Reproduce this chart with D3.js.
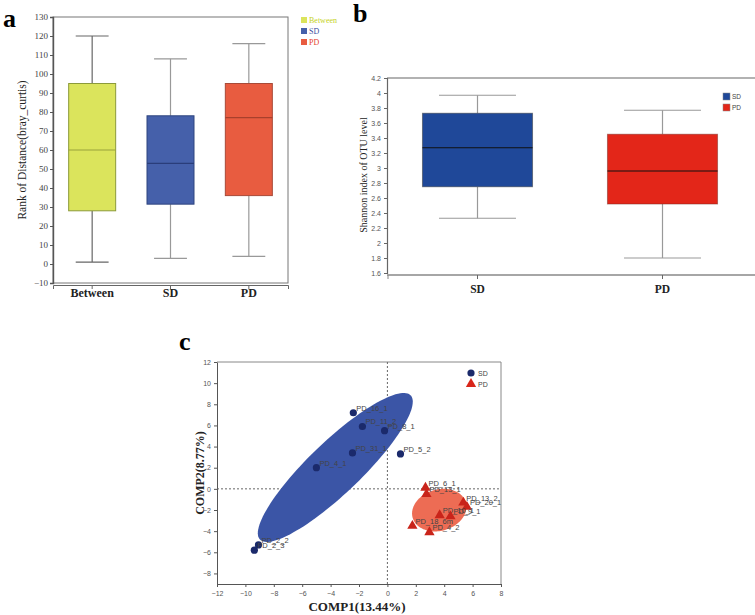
<!DOCTYPE html>
<html><head><meta charset="utf-8">
<script src="https://cdn.jsdelivr.net/npm/d3@7"></script>
<style>body{margin:0;background:#fff}svg{display:block}</style>
</head><body>
<script>
// ---------- Panel a data ----------
const groupsA = ["Between", "SD", "PD"];
const minA = [1, 3, 4];
const q1A = [28, 31.5, 36];
const medA = [60, 53, 77];
const q3A = [95, 78, 95];
const maxA = [120, 108, 116];
const yTicksA = [-10, 0, 10, 20, 30, 40, 50, 60, 70, 80, 90, 100, 110, 120, 130];

// ---------- Panel b data ----------
const groupsB = ["SD", "PD"];
const minB = [2.33, 1.8];
const q1B = [2.75, 2.52];
const medB = [3.27, 2.96];
const q3B = [3.73, 3.45];
const maxB = [3.97, 3.77];
const yTicksB = [1.6, 1.8, 2, 2.2, 2.4, 2.6, 2.8, 3, 3.2, 3.4, 3.6, 3.8, 4, 4.2];

// ---------- Panel c data ----------
const sdNames = ["PD_16_1", "PD_11_2", "PD_8_1", "PD_31_1", "PD_5_2", "PD_4_1", "PD_2_2", "PD_2_3"];
const sdX = [-2.4, -1.76, -0.2, -2.46, 0.92, -5.0, -9.08, -9.37];
const sdY = [7.2, 5.9, 5.5, 3.4, 3.3, 2.0, -5.3, -5.8];
const pdNames = ["PD_6_1", "PD_13_1", "PD_13_2", "PD_20_1", "PD_10_1", "PD_9_1", "PD_18_6m", "PD_4_2"];
const pdX = [2.68, 2.75, 5.35, 5.6, 3.68, 4.44, 1.76, 2.96];
const pdY = [0.1, -0.5, -1.3, -1.7, -2.5, -2.6, -3.5, -4.1];
const xTicksC = [-12, -10, -8, -6, -4, -2, 0, 2, 4, 6, 8];
const yTicksC = [-8, -6, -4, -2, 0, 2, 4, 6, 8, 10, 12];

const W = 755, H = 615;
const svg = d3.select("body").append("svg").attr("width", W).attr("height", H);
const serif = "'Liberation Serif','Times New Roman',serif";
const sans = "'Liberation Sans',Arial,sans-serif";

// ================= Panel a =================
{
  const g = svg.append("g");
  const L = 53, R = 288, T = 17, B = 283;
  const x = d3.scaleBand().domain(groupsA).range([L, R]);
  const y = d3.scaleLinear().domain([-10, 130]).range([B, T]);
  const fill = ["#dbe45c", "#4560aa", "#e85c40"];
  const edge = ["#8c9a3a", "#2e447f", "#a84a38"];
  const medc = ["#9aa23a", "#2a3d7a", "#a8402c"];
  const legC = ["#c5d21a", "#3b4fa0", "#e5432e"];

  g.append("text").attr("x", 3).attr("y", 27).attr("font-family", serif).attr("font-weight", "bold")
    .attr("font-size", 26).text("a");

  g.append("rect").attr("x", L).attr("y", T).attr("width", R - L).attr("height", B - T)
    .attr("fill", "none").attr("stroke", "#777").attr("stroke-width", 1);

  const ya = d3.axisLeft(y).tickValues(yTicksA).tickSize(3).tickFormat(d3.format("d"));
  const yg = g.append("g").attr("transform", `translate(${L},0)`).call(ya);
  yg.select(".domain").attr("stroke", "#555").attr("stroke-width", 1.4);
  yg.selectAll(".tick line").attr("stroke", "#555");
  yg.selectAll("text").attr("font-family", serif).attr("font-size", 9).attr("fill", "#444").attr("dx", 1);

  const xa = d3.axisBottom(x).tickSize(4).tickSizeOuter(4);
  const xg = g.append("g").attr("transform", `translate(0,${B + 2})`).call(xa);
  xg.select(".domain").attr("stroke", "#666");
  xg.selectAll(".tick line").attr("stroke", "#666");
  xg.selectAll("text").attr("font-family", serif).attr("font-weight", "bold").attr("font-size", 12)
    .attr("fill", "#222").attr("dy", "0.45em");

  g.append("text").attr("transform", `translate(26,150) rotate(-90)`).attr("text-anchor", "middle")
    .attr("font-family", serif).attr("font-size", 11.5).attr("fill", "#222").text("Rank of Distance(bray_curtis)");

  groupsA.forEach((k, i) => {
    const cx = x(k) + x.bandwidth() / 2;
    const bw = x.bandwidth() * 0.6, cw = x.bandwidth() * 0.42;
    const wc = i === 0 ? "#666" : "#999";
    g.append("line").attr("x1", cx).attr("x2", cx).attr("y1", y(maxA[i])).attr("y2", y(q3A[i])).attr("stroke", wc).attr("stroke-width", 1.2);
    g.append("line").attr("x1", cx).attr("x2", cx).attr("y1", y(q1A[i])).attr("y2", y(minA[i])).attr("stroke", wc).attr("stroke-width", 1.2);
    g.append("line").attr("x1", cx - cw / 2).attr("x2", cx + cw / 2).attr("y1", y(maxA[i])).attr("y2", y(maxA[i])).attr("stroke", wc).attr("stroke-width", 1.2);
    g.append("line").attr("x1", cx - cw / 2).attr("x2", cx + cw / 2).attr("y1", y(minA[i])).attr("y2", y(minA[i])).attr("stroke", wc).attr("stroke-width", 1.2);
    g.append("rect").attr("x", cx - bw / 2).attr("y", y(q3A[i])).attr("width", bw).attr("height", y(q1A[i]) - y(q3A[i]))
      .attr("fill", fill[i]).attr("stroke", edge[i]).attr("stroke-width", 1);
    g.append("line").attr("x1", cx - bw / 2).attr("x2", cx + bw / 2).attr("y1", y(medA[i])).attr("y2", y(medA[i])).attr("stroke", medc[i]).attr("stroke-width", 1.2);
    g.append("rect").attr("x", 301).attr("y", 17 + i * 11).attr("width", 6).attr("height", 6).attr("fill", fill[i]);
    g.append("text").attr("x", 309).attr("y", 23 + i * 11).attr("font-family", serif).attr("font-size", 8)
      .attr("fill", legC[i]).text(k);
  });
}

// ================= Panel b =================
{
  const g = svg.append("g");
  const L = 387, R = 755, T = 78, B = 273;
  const x = d3.scaleBand().domain(groupsB).range([385, 755]);
  const y = d3.scaleLinear().domain([1.6, 4.2]).range([B, T]);
  const fill = ["#1f4899", "#e32619"];
  const edge = ["#333", "#7a2a20"];

  g.append("text").attr("x", 353).attr("y", 22).attr("font-family", serif).attr("font-weight", "bold")
    .attr("font-size", 26).text("b");

  g.append("line").attr("x1", L).attr("x2", R).attr("y1", T).attr("y2", T).attr("stroke", "#666").attr("stroke-width", 1.2);

  const ya = d3.axisLeft(y).tickValues(yTicksB).tickSize(3).tickFormat(d => String(+d.toFixed(1)));
  const yg = g.append("g").attr("transform", `translate(${L},0)`).call(ya);
  yg.select(".domain").attr("stroke", "#666").attr("stroke-width", 1.2);
  yg.selectAll(".tick line").attr("stroke", "#666");
  yg.selectAll("text").attr("font-family", sans).attr("font-size", 7).attr("fill", "#555");

  const xg = g.append("g").attr("transform", `translate(0,${B + 2})`);
  xg.append("line").attr("x1", L).attr("x2", R).attr("y1", 0).attr("y2", 0).attr("stroke", "#888").attr("stroke-width", 1.5);
  xg.append("line").attr("x1", L + 1).attr("x2", L + 1).attr("y1", 0).attr("y2", 4).attr("stroke", "#888");
  groupsB.forEach(k => {
    const cx = x(k) + x.bandwidth() / 2;
    xg.append("line").attr("x1", cx).attr("x2", cx).attr("y1", 0).attr("y2", 4).attr("stroke", "#666");
    xg.append("text").attr("x", cx).attr("y", 18).attr("text-anchor", "middle").attr("font-family", serif)
      .attr("font-weight", "bold").attr("font-size", 11.5).attr("fill", "#222").text(k);
  });

  g.append("text").attr("transform", `translate(367,175) rotate(-90)`).attr("text-anchor", "middle")
    .attr("font-family", serif).attr("font-size", 10).attr("fill", "#222").text("Shannon index of OTU level");

  groupsB.forEach((k, i) => {
    const cx = x(k) + x.bandwidth() / 2;
    const bw = x.bandwidth() * 0.595, cw = x.bandwidth() * 0.416;
    const wc = "#999";
    g.append("line").attr("x1", cx).attr("x2", cx).attr("y1", y(maxB[i])).attr("y2", y(q3B[i])).attr("stroke", wc).attr("stroke-width", 1.2);
    g.append("line").attr("x1", cx).attr("x2", cx).attr("y1", y(q1B[i])).attr("y2", y(minB[i])).attr("stroke", wc).attr("stroke-width", 1.2);
    g.append("line").attr("x1", cx - cw / 2).attr("x2", cx + cw / 2).attr("y1", y(maxB[i])).attr("y2", y(maxB[i])).attr("stroke", wc).attr("stroke-width", 1.2);
    g.append("line").attr("x1", cx - cw / 2).attr("x2", cx + cw / 2).attr("y1", y(minB[i])).attr("y2", y(minB[i])).attr("stroke", wc).attr("stroke-width", 1.2);
    g.append("rect").attr("x", cx - bw / 2).attr("y", y(q3B[i])).attr("width", bw).attr("height", y(q1B[i]) - y(q3B[i]))
      .attr("fill", fill[i]).attr("stroke", edge[i]).attr("stroke-opacity", 0.5).attr("stroke-width", 1);
    g.append("line").attr("x1", cx - bw / 2).attr("x2", cx + bw / 2).attr("y1", y(medB[i])).attr("y2", y(medB[i])).attr("stroke", "#111").attr("stroke-width", 1);
    g.append("rect").attr("x", 723).attr("y", 93 + i * 11).attr("width", 7).attr("height", 7).attr("fill", fill[i]).attr("stroke", "#888").attr("stroke-width", 0.5);
    g.append("text").attr("x", 732).attr("y", 99 + i * 11).attr("font-family", sans).attr("font-size", 6.5).attr("fill", "#444").text(k);
  });
}

// ================= Panel c =================
{
  const g = svg.append("g");
  const L = 217, R = 501, T = 362, B = 584;
  const x = d3.scaleLinear().domain([-12, 8]).range([L, R]);
  const y = d3.scaleLinear().domain([-9, 12]).range([B, T]);

  g.append("text").attr("x", 179).attr("y", 350).attr("font-family", serif).attr("font-weight", "bold")
    .attr("font-size", 26).text("c");

  g.append("line").attr("x1", L).attr("x2", R).attr("y1", T).attr("y2", T).attr("stroke", "#888");
  g.append("line").attr("x1", R).attr("x2", R).attr("y1", T).attr("y2", B).attr("stroke", "#888");

  const ya = d3.axisLeft(y).tickValues(yTicksC).tickSize(3).tickSizeOuter(0);
  const yg = g.append("g").attr("transform", `translate(${L},0)`).call(ya);
  yg.select(".domain").attr("stroke", "#555");
  yg.selectAll(".tick line").attr("stroke", "#555");
  yg.selectAll("text").attr("font-family", sans).attr("font-size", 7).attr("fill", "#555");
  const xa = d3.axisBottom(x).tickValues(xTicksC).tickSize(3).tickSizeOuter(0);
  const xg = g.append("g").attr("transform", `translate(0,${B})`).call(xa);
  xg.select(".domain").attr("stroke", "#555");
  xg.selectAll(".tick line").attr("stroke", "#555");
  xg.selectAll("text").attr("font-family", sans).attr("font-size", 7).attr("fill", "#555").attr("dy", "0.9em");

  g.append("line").attr("x1", x(0)).attr("x2", x(0)).attr("y1", T).attr("y2", B).attr("stroke", "#666").attr("stroke-dasharray", "2,2");
  g.append("line").attr("x1", L).attr("x2", R).attr("y1", y(0)).attr("y2", y(0)).attr("stroke", "#666").attr("stroke-dasharray", "2,2");

  g.append("text").attr("x", (L + R) / 2 - 2).attr("y", 611).attr("text-anchor", "middle").attr("font-family", serif)
    .attr("font-weight", "bold").attr("font-size", 13).attr("fill", "#222").text("COMP1(13.44%)");
  g.append("text").attr("transform", `translate(204,473) rotate(-90)`).attr("text-anchor", "middle")
    .attr("font-family", serif).attr("font-weight", "bold").attr("font-size", 12).attr("fill", "#222").text("COMP2(8.77%)");

  function ellipsePath(xs, ys, k) {
    const n = xs.length, mx = d3.mean(xs), my = d3.mean(ys);
    let sxx = 0, syy = 0, sxy = 0;
    for (let i = 0; i < n; i++) { const dx = xs[i] - mx, dy = ys[i] - my; sxx += dx * dx; syy += dy * dy; sxy += dx * dy; }
    sxx /= n - 1; syy /= n - 1; sxy /= n - 1;
    const a = Math.sqrt(sxx), b = sxy / a, c = Math.sqrt(syy - b * b);
    const pts = d3.range(0, 361, 3).map(t => {
      const r = t * Math.PI / 180, u = Math.cos(r) * k, v = Math.sin(r) * k;
      return [x(mx + a * u), y(my + b * u + c * v)];
    });
    return d3.line()(pts) + "Z";
  }
  g.append("path").attr("d", ellipsePath(sdX, sdY, 1.42)).attr("fill", "#3b55a6");
  g.append("path").attr("d", ellipsePath(pdX, pdY, 1.4)).attr("fill", "#ec5f45").attr("fill-opacity", 0.92);

  const lab = (px, py, t) => g.append("text").attr("x", px + 3).attr("y", py - 2).attr("font-family", sans)
    .attr("font-size", 7.5).attr("fill", "#444").text(t);

  sdNames.forEach((nm, i) => {
    g.append("circle").attr("cx", x(sdX[i])).attr("cy", y(sdY[i])).attr("r", 3.6).attr("fill", "#1b2a6b");
    lab(x(sdX[i]), y(sdY[i]), nm);
  });
  const tri = d3.symbol().type(d3.symbolTriangle).size(46);
  pdNames.forEach((nm, i) => {
    g.append("path").attr("d", tri).attr("transform", `translate(${x(pdX[i])},${y(pdY[i])})`)
      .attr("fill", "#c9241a");
    lab(x(pdX[i]), y(pdY[i]), nm);
  });

  g.append("circle").attr("cx", 471).attr("cy", 373).attr("r", 3.6).attr("fill", "#1b2a6b");
  g.append("text").attr("x", 478).attr("y", 376).attr("font-family", sans).attr("font-size", 7).attr("fill", "#444").text("SD");
  g.append("path").attr("d", tri).attr("transform", "translate(471,384)").attr("fill", "#d8261a");
  g.append("text").attr("x", 478).attr("y", 387).attr("font-family", sans).attr("font-size", 7).attr("fill", "#444").text("PD");
}
</script>
</body></html>
